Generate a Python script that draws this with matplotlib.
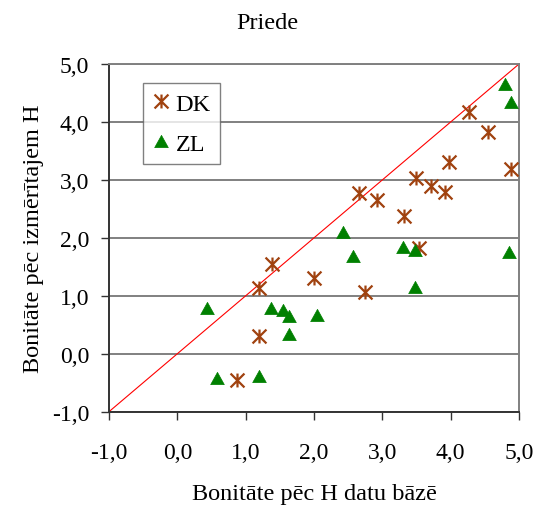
import matplotlib
matplotlib.use("Agg")
import matplotlib.pyplot as plt
from matplotlib.path import Path
from matplotlib.ticker import FuncFormatter, MultipleLocator

plt.rcParams['font.family'] = ['Liberation Serif', 'DejaVu Serif']

title = "Priede"
xlabel = "Bonitāte pēc H datu bāzē"
ylabel = "Bonitāte pēc izmērītajem H"

dk_x = [0.87, 1.20, 1.19, 1.39, 2.00, 2.66, 2.75, 2.92, 3.31, 3.50, 3.54, 3.71, 3.92, 3.98, 4.27, 4.54, 4.88]
dk_y = [-0.45, 0.31, 1.13, 1.55, 1.31, 2.77, 1.07, 2.66, 2.38, 3.03, 1.83, 2.90, 2.80, 3.31, 4.18, 3.83, 3.18]

zl_x = [0.43, 0.58, 1.20, 1.37, 1.54, 1.63, 1.63, 2.04, 2.42, 2.57, 3.30, 3.48, 3.48, 4.85, 4.80, 4.88]
zl_y = [0.79, -0.42, -0.39, 0.79, 0.76, 0.65, 0.34, 0.67, 2.10, 1.68, 1.85, 1.79, 1.16, 1.75, 4.66, 4.34]

line_x = [-1.0, 5.0]
line_y = [-1.0, 5.0]

fig = plt.figure(figsize=(5.39, 5.06), dpi=100)
ax = fig.add_axes([0.2022, 0.1844, 0.7607, 0.6871])

ax.set_xlim(-1, 5)
ax.set_ylim(-1, 5)
ax.xaxis.set_major_locator(MultipleLocator(1))
ax.yaxis.set_major_locator(MultipleLocator(1))
fmt = FuncFormatter(lambda v, p: f"{v:.1f}".replace('.', ','))
ax.xaxis.set_major_formatter(fmt)
ax.yaxis.set_major_formatter(fmt)

ax.yaxis.grid(True, color='#808080', linewidth=1.4)
ax.set_axisbelow(True)

for s in ['top', 'right']:
    ax.spines[s].set_color('#808080')
    ax.spines[s].set_linewidth(1.4)
for s in ['left', 'bottom']:
    ax.spines[s].set_color('#333333')
    ax.spines[s].set_linewidth(1.4)

ax.tick_params(axis='both', direction='out', length=5.5, width=1.0, color='#333333',
               labelsize=17)
ax.tick_params(axis='x', pad=16)
ax.tick_params(axis='y', pad=8.7)

ax.plot(line_x, line_y, color='red', linewidth=0.8, zorder=2)

star = Path([(0, -1), (0, 1), (-1, -1), (1, 1), (-1, 1), (1, -1)],
            [Path.MOVETO, Path.LINETO, Path.MOVETO, Path.LINETO, Path.MOVETO, Path.LINETO])
tri = Path([(0, 0.9), (-1, -0.9), (1, -0.9), (0, 0.9)],
           [Path.MOVETO, Path.LINETO, Path.LINETO, Path.CLOSEPOLY])

ax.plot(dk_x, dk_y, linestyle='none', marker=star, markersize=10,
        markeredgecolor='#A0420F', markerfacecolor='none', markeredgewidth=1.6,
        label='DK', zorder=3)
ax.plot(zl_x, zl_y, linestyle='none', marker=tri, markersize=9.8,
        markeredgecolor='#008000', markerfacecolor='#008000', markeredgewidth=0.5,
        label='ZL', zorder=3)

leg = ax.legend(loc='upper left', bbox_to_anchor=(0.082, 0.944), borderaxespad=0,
                fontsize=17.5, frameon=True, fancybox=False, handlelength=0.77,
                handletextpad=0.2, borderpad=0.38, labelspacing=0.75)
leg.get_frame().set_edgecolor('#606060')
leg.get_frame().set_linewidth(1.0)

ax.set_xlabel(xlabel, fontsize=17.5, labelpad=15)
ax.set_ylabel(ylabel, fontsize=17.5, labelpad=5.5)
fig.text(0.4954, 0.9526, title, ha='center', va='center', fontsize=17.5)

fig.savefig("out.png", dpi=100)
